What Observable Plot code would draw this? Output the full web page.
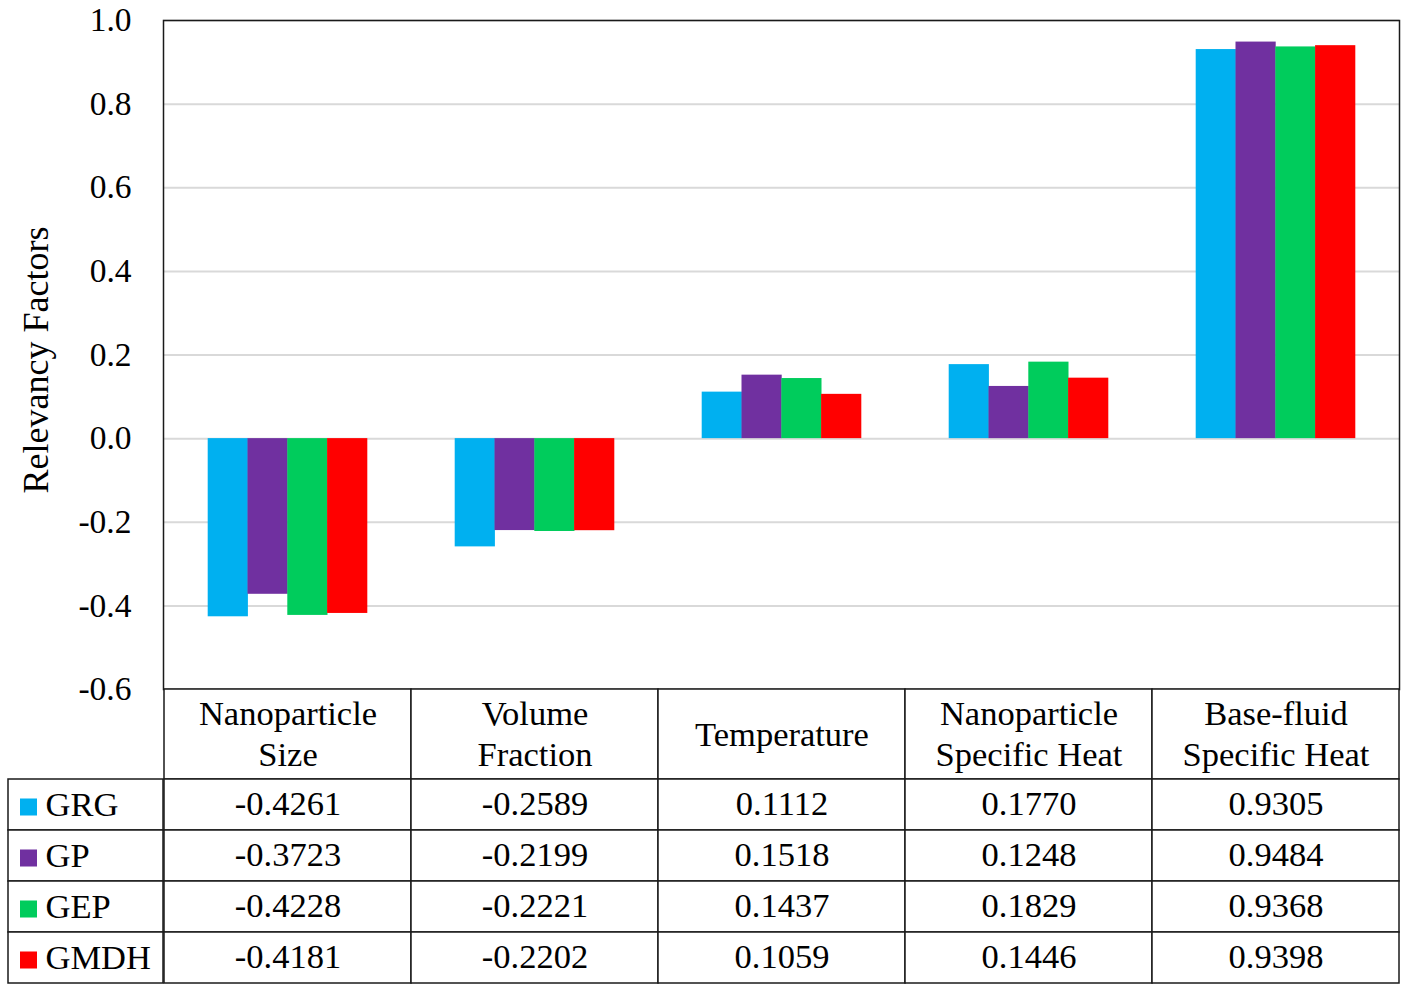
<!DOCTYPE html>
<html><head><meta charset="utf-8">
<script src="https://cdn.jsdelivr.net/npm/d3@7"></script>
<script src="https://cdn.jsdelivr.net/npm/@observablehq/plot@0.6"></script>
<style>
body{margin:0;background:#fff;}
#wrap{position:relative;width:1407px;height:991px;}
#wrap svg{position:absolute;overflow:visible;}
</style></head><body><div id="wrap"></div>
<script>
// ---- data ----
const categories = ["Nanoparticle Size","Volume Fraction","Temperature","Nanoparticle Specific Heat","Base-fluid Specific Heat"];
const headerLabels = ["Nanoparticle\nSize","Volume\nFraction","Temperature","Nanoparticle\nSpecific Heat","Base-fluid\nSpecific Heat"];
const seriesNames = ["GRG","GP","GEP","GMDH"];
const seriesColors = ["#00B0F0","#7030A0","#00CC5C","#FF0000"];
const GRG  = [-0.4261,-0.2589,0.1112,0.1770,0.9305];
const GP   = [-0.3723,-0.2199,0.1518,0.1248,0.9484];
const GEP  = [-0.4228,-0.2221,0.1437,0.1829,0.9368];
const GMDH = [-0.4181,-0.2202,0.1059,0.1446,0.9398];
const yTicks = [-0.6,-0.4,-0.2,0,0.2,0.4,0.6,0.8,1.0];
const yLabel = "Relevancy Factors";

// ---- layout ----
const W = 1407, L = 163, R = 8, TOP = 20, CHART_BOTTOM = 689, HEADER_H = 90, ROW_H = 51;
const FONT = "'Liberation Serif','Times New Roman',serif";
const INK = "#1a1a1a";
const TABLE_FS = 34.5;
const valuesList = [GRG, GP, GEP, GMDH];
const colW = (W - L - R) / categories.length;
const groupPad = 44;
const barW = (colW - 2 * groupPad) / seriesNames.length;
const baseStyle = {background: "transparent", overflow: "visible", fontFamily: FONT, color: "#000"};
const wrap = document.getElementById("wrap");
function place(el, left, top) { el.style.left = left + "px"; el.style.top = top + "px"; wrap.appendChild(el); }

// ---- chart ----
const barMarks = seriesNames.map((s, j) =>
  Plot.barY(categories.map((c, i) => ({cat: c, value: valuesList[j][i]})), {
    x: "cat", y: "value", fill: seriesColors[j],
    insetLeft: groupPad + j * barW - 0.3,
    insetRight: colW - groupPad - (j + 1) * barW - 0.3
  })
);
const chart = Plot.plot({
  width: W, height: CHART_BOTTOM + 1,
  marginTop: TOP, marginLeft: L, marginRight: R, marginBottom: 1,
  style: baseStyle,
  x: {domain: categories, padding: 0, axis: null},
  y: {domain: [-0.6, 1.0], axis: null},
  marks: [
    Plot.ruleY(yTicks, {stroke: "#d9d9d9", strokeWidth: 2}),
    ...barMarks,
    Plot.frame({stroke: INK, strokeWidth: 1.5}),
    Plot.axisY({ticks: yTicks, tickFormat: d => d.toFixed(1), tickSize: 0, tickPadding: 32, fontSize: 33.5, fontFamily: FONT, label: null}),
    Plot.text([yLabel], {text: d => d, frameAnchor: "left", textAnchor: "middle", rotate: -90, dx: -127, dy: 5, fontSize: 36, fontFamily: FONT})
  ]
});
place(chart, 0, 0);

// ---- table header ----
const header = Plot.plot({
  width: W, height: HEADER_H,
  marginTop: 0, marginBottom: 0, marginLeft: L, marginRight: R,
  style: baseStyle,
  x: {domain: categories, padding: 0, axis: null},
  marks: [
    Plot.cell(categories, {x: d => d, fill: "white", stroke: INK, strokeWidth: 1.5}),
    Plot.text(categories, {x: d => d, text: (d, i) => headerLabels[i], fontSize: TABLE_FS, lineHeight: 1.19, dy: -2, fontFamily: FONT})
  ]
});
place(header, 0, CHART_BOTTOM);

// ---- table body ----
const tableRows = seriesNames.flatMap((s, j) => categories.map((c, i) => ({series: s, cat: c, value: valuesList[j][i]})));
const body = Plot.plot({
  width: W, height: ROW_H * seriesNames.length,
  marginTop: 0, marginBottom: 0, marginLeft: L, marginRight: R,
  style: baseStyle,
  x: {domain: categories, padding: 0, axis: null},
  y: {domain: seriesNames, padding: 0, axis: null},
  marks: [
    Plot.cell(tableRows, {x: "cat", y: "series", fill: "white", stroke: INK, strokeWidth: 1.5}),
    Plot.text(tableRows, {x: "cat", y: "series", text: d => d.value.toFixed(4), fontSize: TABLE_FS, dy: -1, fontFamily: FONT})
  ]
});
place(body, 0, CHART_BOTTOM + HEADER_H);

// ---- legend column ----
const legend = Plot.plot({
  width: L, height: ROW_H * seriesNames.length,
  marginTop: 0, marginBottom: 0, marginLeft: R, marginRight: 0,
  style: baseStyle,
  y: {domain: seriesNames, padding: 0, axis: null},
  color: {domain: seriesNames, range: seriesColors},
  marks: [
    Plot.cell(seriesNames, {y: d => d, fill: "white", stroke: INK, strokeWidth: 1.5}),
    Plot.dot(seriesNames, {y: d => d, frameAnchor: "left", dx: 20, dy: 2, symbol: "square", r: 9.6, fill: d => d}),
    Plot.text(seriesNames, {y: d => d, text: d => d, frameAnchor: "left", textAnchor: "start", dx: 37, fontSize: TABLE_FS, fontFamily: FONT})
  ]
});
place(legend, 0, CHART_BOTTOM + HEADER_H);
</script></body></html>
